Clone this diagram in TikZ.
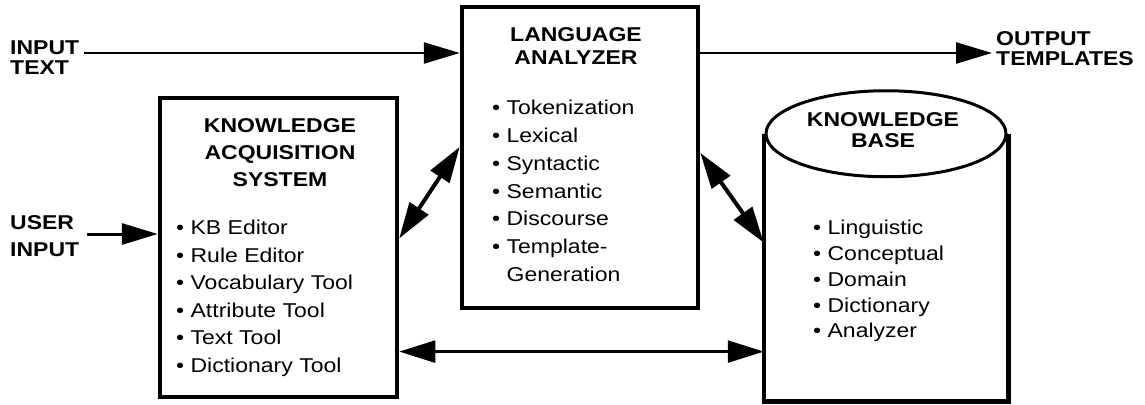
\documentclass[tikz,border=0pt]{standalone}
\usepackage{fontspec}
\setmainfont{Liberation Sans}[FakeStretch=1.15]
\usetikzlibrary{arrows.meta,calc}

\begin{document}
\begin{tikzpicture}[x=1pt,y=-1pt,
  box/.style={draw,line width=4.5pt,inner sep=0pt},
  head/.style={font=\fontsize{20}{#1}\selectfont\bfseries,align=center,inner sep=0pt,anchor=north},
  items/.style={font=\fontsize{20}{#1}\selectfont,align=left,inner sep=0pt,anchor=north west},
  items/.default=27.5,
  sidetext/.style={font=\fontsize{20}{#1}\selectfont\bfseries,align=left,inner sep=0pt,anchor=north west},
  flow/.style={line width=2.5pt,-{Triangle[length=36pt,width=21pt]}},
  twoway/.style={line width=#1,{Triangle[length=36pt,width=22pt]}-{Triangle[length=36pt,width=22pt]}},
  twoway/.default=4pt]
\useasboundingbox (0,0) rectangle (1145,404);

% boxes
\node[box,minimum width=237pt,minimum height=299pt] (kas) at (278.5,247.5) {};
\node[box,minimum width=236pt,minimum height=301pt] (la) at (580,157.5) {};
\node[inner sep=0pt,outer sep=2.25pt,minimum width=240pt,minimum height=263pt] (kb) at (886,267.5) {};
\draw[line width=4.5pt] (kb.north west) -- (kb.south west) -- (kb.south east) -- (kb.north east);
\draw[line width=3pt,fill=white] (kb.north) ellipse [x radius=120pt,y radius=43pt];

% texts in the boxes
\node[head=27] (kashead) at (280,118) {KNOWLEDGE\\ACQUISITION\\SYSTEM};
\node[items] (kaslist) at (176,220) {• KB Editor\\• Rule Editor\\• Vocabulary Tool\\• Attribute Tool\\• Text Tool\\• Dictionary Tool};
\node[head=23.5] (lahead) at (576,27) {LANGUAGE\\ANALYZER};
\node[items=27.8] (lalist) at (492,100) {• Tokenization\\• Lexical\\• Syntactic\\• Semantic\\• Discourse\\• Template-\\\phantom{•\ }Generation};
\node[head=21] (kbhead) at (883,112) {KNOWLEDGE\\BASE};
\node[items=25.8] (kblist) at (813,220) {• Linguistic\\• Conceptual\\• Domain\\• Dictionary\\• Analyzer};

% outside labels
\node[sidetext=20] (intext) at (10,41) {INPUT\\TEXT};
\node[sidetext=20] (outtext) at (996,31) {OUTPUT\\TEMPLATES};
\node[sidetext=27] (usertext) at (10,215) {USER\\INPUT};

% connectors
\coordinate (textin) at (84,53);
\coordinate (textout) at (992,53);
\coordinate (userin) at (87,234);
\coordinate (kasbase) at ($(kas.north east)!.843!(kas.south east)$);
\draw[flow] (textin) -- (textin -| la.west);
\draw[flow] (textout -| la.east) -- (textout);
\draw[flow,line width=3pt] (userin) -- (userin -| kas.west);
\draw[twoway] ($(kas.north east)!.47!(kas.south east)$) -- ($(la.north west)!.465!(la.south west)$);
\draw[twoway] ($(la.north east)!.485!(la.south east)$) -- ($(kb.north west)!.407!(kb.south west)$);
\draw[twoway=2.5pt] (kasbase) -- (kasbase -| kb.west);
\end{tikzpicture}
\end{document}
